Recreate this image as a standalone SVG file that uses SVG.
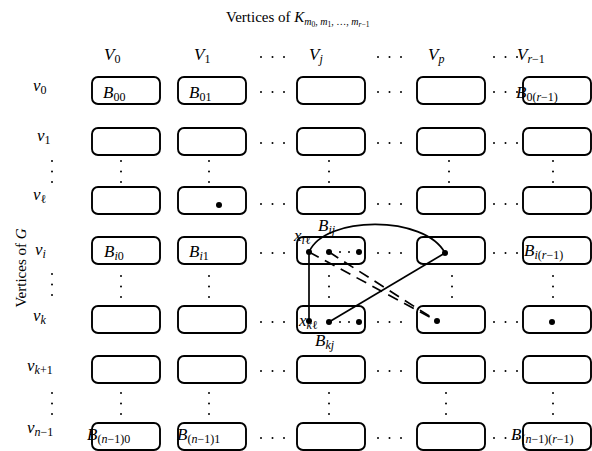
<svg xmlns="http://www.w3.org/2000/svg" width="592" height="451" viewBox="0 0 592 451">
<style>
text{font-family:"Liberation Serif","DejaVu Serif",serif;font-size:17px;fill:#000}
text.t{font-size:15px}
.i{font-style:italic}
.s{font-size:12px}
.ts{font-size:10px}
.ss{font-size:7.5px}
.box{fill:#fff;stroke:#000;stroke-width:1.9}
.d{fill:#000}
.e{fill:none;stroke:#000;stroke-width:1.7}
.dash{fill:none;stroke:#000;stroke-width:1.7;stroke-dasharray:11 7}
</style>
<defs>
<rect id="bx" class="box" x="0" y="0" width="68" height="27" rx="6" ry="6"/>
<g id="hd"><circle class="d" cx="0" cy="0" r="1"/><circle class="d" cx="11.5" cy="0" r="1"/><circle class="d" cx="23" cy="0" r="1"/></g>
<g id="vd"><circle class="d" cx="0" cy="0" r="1"/><circle class="d" cx="0" cy="10.5" r="1"/><circle class="d" cx="0" cy="21" r="1"/></g>
</defs>

<!-- titles -->
<g id="title">
<text class="t" x="226" y="22">Vertices of <tspan class="i">K</tspan><tspan class="ts" dy="3"><tspan class="i">m</tspan><tspan class="ss" dy="2">0</tspan><tspan dy="-2">, </tspan><tspan class="i">m</tspan><tspan class="ss" dy="2">1</tspan><tspan dy="-2">, …, </tspan><tspan class="i">m</tspan><tspan class="ss" dy="2"><tspan class="i">r</tspan>−1</tspan></tspan></text>
</g>
<g id="gtitle">
<text class="t" transform="translate(26,268) rotate(-90)" text-anchor="middle">Vertices of <tspan class="i">G</tspan></text>
</g>

<!-- column headers -->
<g id="headers">
<text x="104" y="60"><tspan class="i">V</tspan><tspan class="s" dy="3">0</tspan></text>
<text x="194" y="60"><tspan class="i">V</tspan><tspan class="s" dy="3">1</tspan></text>
<use href="#hd" x="261" y="57"/>
<text x="309" y="60"><tspan class="i">V</tspan><tspan class="s i" dy="3">j</tspan></text>
<use href="#hd" x="378" y="57"/>
<text x="428" y="60"><tspan class="i">V</tspan><tspan class="s i" dy="3">p</tspan></text>
<use href="#hd" x="494" y="57"/>
<text x="517" y="60"><tspan class="i">V</tspan><tspan class="s" dy="3"><tspan class="i">r</tspan>−1</tspan></text>
</g>

<!-- row labels -->
<g id="rowlabels">
<text x="33" y="91"><tspan class="i">v</tspan><tspan class="s" dy="3">0</tspan></text>
<text x="37" y="141"><tspan class="i">v</tspan><tspan class="s" dy="3">1</tspan></text>
<use href="#vd" x="52" y="161"/>
<text x="33" y="200"><tspan class="i">v</tspan><tspan class="s" dy="3">ℓ</tspan></text>
<text x="35" y="255"><tspan class="i">v</tspan><tspan class="s i" dy="3">i</tspan></text>
<use href="#vd" x="52" y="274"/>
<text x="33" y="321"><tspan class="i">v</tspan><tspan class="s i" dy="3">k</tspan></text>
<text x="27" y="371"><tspan class="i">v</tspan><tspan class="s" dy="3"><tspan class="i">k</tspan>+1</tspan></text>
<use href="#vd" x="52" y="393"/>
<text x="27" y="433"><tspan class="i">v</tspan><tspan class="s" dy="3"><tspan class="i">n</tspan>−1</tspan></text>
</g>

<!-- row 0 -->
<g id="B00"><use href="#bx" x="92" y="77"/><text x="103" y="98"><tspan class="i">B</tspan><tspan class="s" dy="3">00</tspan></text></g>
<g id="B01"><use href="#bx" x="178" y="77"/><text x="189" y="98"><tspan class="i">B</tspan><tspan class="s" dy="3">01</tspan></text></g>
<g id="B0j"><use href="#bx" x="297" y="77"/></g>
<g id="B0p"><use href="#bx" x="417" y="77"/></g>
<g id="B0r"><use href="#bx" x="523" y="77"/><text x="516" y="98"><tspan class="i">B</tspan><tspan class="s" dy="3">0(<tspan class="i">r</tspan>−1)</tspan></text></g>

<!-- row 1 -->
<g id="B10"><use href="#bx" x="92" y="128"/></g>
<g id="B11"><use href="#bx" x="178" y="128"/></g>
<g id="B1j"><use href="#bx" x="297" y="128"/></g>
<g id="B1p"><use href="#bx" x="417" y="128"/></g>
<g id="B1r"><use href="#bx" x="523" y="128"/></g>

<!-- row l -->
<g id="Bl0"><use href="#bx" x="92" y="187"/></g>
<g id="Bl1"><use href="#bx" x="178" y="187"/><circle class="d" cx="219" cy="205" r="3"/></g>
<g id="Blj"><use href="#bx" x="297" y="187"/></g>
<g id="Blp"><use href="#bx" x="417" y="187"/></g>
<g id="Blr"><use href="#bx" x="523" y="187"/></g>

<!-- row i -->
<g id="Bi0"><use href="#bx" x="92" y="237"/><text x="104" y="257"><tspan class="i">B</tspan><tspan class="s" dy="3"><tspan class="i">i</tspan>0</tspan></text></g>
<g id="Bi1"><use href="#bx" x="178" y="237"/><text x="189" y="257"><tspan class="i">B</tspan><tspan class="s" dy="3"><tspan class="i">i</tspan>1</tspan></text></g>
<g id="Bij"><use href="#bx" x="297" y="237"/>
<circle class="d" cx="309" cy="252" r="3"/><circle class="d" cx="329" cy="252" r="3"/><circle class="d" cx="340" cy="252" r="1"/><circle class="d" cx="349" cy="252" r="1"/><circle class="d" cx="359" cy="252" r="3"/>
<text x="318" y="231"><tspan class="i">B</tspan><tspan class="s i" dy="3">ij</tspan></text>
<text x="294" y="241"><tspan class="i">x</tspan><tspan class="s" dy="3"><tspan class="i">i</tspan>ℓ</tspan></text>
</g>
<g id="Bip"><use href="#bx" x="417" y="237"/><circle class="d" cx="445" cy="253" r="3"/></g>
<g id="Bir"><use href="#bx" x="523" y="237"/><text x="524" y="256"><tspan class="i">B</tspan><tspan class="s" dy="3"><tspan class="i">i</tspan>(<tspan class="i">r</tspan>−1)</tspan></text></g>

<!-- row k -->
<g id="Bk0"><use href="#bx" x="92" y="306"/></g>
<g id="Bk1"><use href="#bx" x="178" y="306"/></g>
<g id="Bkj"><use href="#bx" x="297" y="306"/>
<circle class="d" cx="309" cy="321" r="3"/><circle class="d" cx="329" cy="322" r="3"/><circle class="d" cx="340" cy="322" r="1"/><circle class="d" cx="349" cy="322" r="1"/><circle class="d" cx="359" cy="322" r="3"/>
<text x="299" y="326"><tspan class="i">x</tspan><tspan class="s" dy="3"><tspan class="i">k</tspan>ℓ</tspan></text>
<text x="315" y="346"><tspan class="i">B</tspan><tspan class="s i" dy="3">kj</tspan></text>
</g>
<g id="Bkp"><use href="#bx" x="417" y="306"/><circle class="d" cx="437" cy="321" r="3"/></g>
<g id="Bkr"><use href="#bx" x="523" y="306"/><circle class="d" cx="552" cy="322" r="3"/></g>

<!-- row k+1 -->
<g id="Bk10"><use href="#bx" x="92" y="356"/></g>
<g id="Bk11"><use href="#bx" x="178" y="356"/></g>
<g id="Bk1j"><use href="#bx" x="297" y="356"/></g>
<g id="Bk1p"><use href="#bx" x="417" y="356"/></g>
<g id="Bk1r"><use href="#bx" x="523" y="356"/></g>

<!-- row n-1 -->
<g id="Bn0"><use href="#bx" x="92" y="423"/><text x="87" y="440"><tspan class="i">B</tspan><tspan class="s" dy="3">(<tspan class="i">n</tspan>−1)0</tspan></text></g>
<g id="Bn1"><use href="#bx" x="178" y="423"/><text x="177" y="440"><tspan class="i">B</tspan><tspan class="s" dy="3">(<tspan class="i">n</tspan>−1)1</tspan></text></g>
<g id="Bnj"><use href="#bx" x="297" y="423"/></g>
<g id="Bnp"><use href="#bx" x="417" y="423"/></g>
<g id="Bnr"><use href="#bx" x="523" y="423"/><text x="511" y="440"><tspan class="i">B</tspan><tspan class="s" dy="3">(<tspan class="i">n</tspan>−1)(<tspan class="i">r</tspan>−1)</tspan></text></g>

<!-- ellipses -->
<g id="ellipses">
<use href="#hd" x="261" y="92"/><use href="#hd" x="378" y="92"/><use href="#hd" x="494" y="92"/>
<use href="#hd" x="261" y="143"/><use href="#hd" x="378" y="143"/><use href="#hd" x="494" y="143"/>
<use href="#hd" x="261" y="204"/><use href="#hd" x="378" y="204"/><use href="#hd" x="494" y="204"/>
<use href="#hd" x="261" y="253"/><use href="#hd" x="378" y="253"/><use href="#hd" x="494" y="253"/>
<use href="#hd" x="261" y="322"/><use href="#hd" x="378" y="322"/><use href="#hd" x="494" y="322"/>
<use href="#hd" x="261" y="371"/><use href="#hd" x="378" y="371"/><use href="#hd" x="494" y="371"/>
<use href="#hd" x="261" y="438"/><use href="#hd" x="378" y="438"/><use href="#hd" x="494" y="438"/>
<use href="#vd" x="121" y="161"/><use href="#vd" x="209" y="161"/><use href="#vd" x="329" y="161"/><use href="#vd" x="449" y="161"/><use href="#vd" x="553" y="161"/>
<use href="#vd" x="121" y="276"/><use href="#vd" x="209" y="276"/><use href="#vd" x="329" y="276"/><use href="#vd" x="452" y="276"/><use href="#vd" x="553" y="276"/>
<use href="#vd" x="121" y="393"/><use href="#vd" x="209" y="393"/><use href="#vd" x="329" y="393"/><use href="#vd" x="446" y="393"/><use href="#vd" x="553" y="393"/>
</g>

<!-- connectors -->
<g id="connectors">
<path class="e" d="M309,252 C325,215 425,215 445,253"/>
<path class="e" d="M309,252 L309,321"/>
<path class="e" d="M445,253 L329,322"/>
<path class="dash" d="M309,252 L437,321"/>
<path class="dash" d="M329,252 L437,321"/>
</g>
</svg>
